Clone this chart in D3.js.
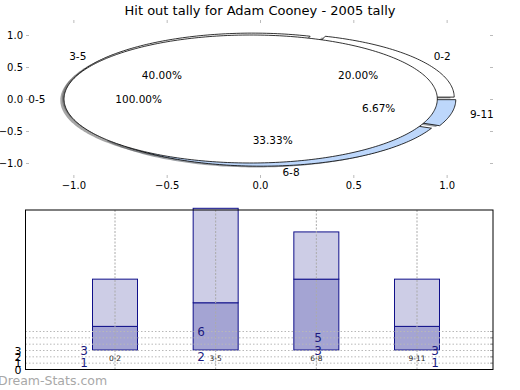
<!DOCTYPE html>
<html>
<head>
<meta charset="utf-8">
<script src="https://cdn.jsdelivr.net/npm/d3@7"></script>
<style>
  body { margin: 0; background: #fff; }
  svg { display: block; font-family: "DejaVu Sans", sans-serif; }
</style>
</head>
<body>
<svg id="chart" width="520" height="390"></svg>
<script>

// Pie data - outer ring and inner single wedge
const outer_labels = ["0-2", "3-5", "6-8", "9-11"],
    outer_values = [3, 6, 5, 1];
const inner_labels = ["0-5"],
    inner_values = [100];

// Bar data
const bar_cats = ["0-2", "3-5", "6-8", "9-11"],
    bar_low = [1, 2, 3, 1],
    bar_total = [3, 6, 5, 3];

// axis ticks
const pie_ticks = [-1, -0.5, 0, 0.5, 1],
    bar_grid = [1, 2, 3, 4, 5, 6],
    bar_ticks = [0, 1, 2, 3];

// Colors
const outer_colors = ["#ffffff", "#ffffff", "#bdd7fb", "#bdd7fb"],
    inner_colors = ["#ffffff"],
    bar_dark = "#a4a4d3",
    bar_light = "#cdcde6",
    bar_edge = "#10108a",
    label_navy = "#1a1a80";

const svg = d3.select("#chart");

// ---------- top: pie (stretched into an ellipse) ----------
const x_pie = d3.scaleLinear().domain([-1.25, 1.25]).range([26.7, 493.3]),
    y_pie = d3.scaleLinear().domain([-1.2, 1.2]).range([175.8, 22.2]);

svg.append("text")
    .attr("x", 260).attr("y", 15)
    .attr("text-anchor", "middle")
    .attr("font-size", 13)
    .text("Hit out tally for Adam Cooney - 2005 tally");

// tick marks all round, labels only left and bottom
function style_axis(g) {
    g.select(".domain").remove();
    g.selectAll("line").attr("stroke", "#bbbbbb");
    g.selectAll("text").attr("font-size", 10).attr("fill", "#000")
        .attr("font-family", "DejaVu Sans, sans-serif");
}
const fmt = d => d3.format(".1f")(d).replace("-", "\u2212");

svg.append("g").attr("transform", "translate(29,0)")
    .call(d3.axisLeft(y_pie).tickValues(pie_ticks).tickSize(3).tickPadding(3).tickFormat(fmt))
    .call(style_axis);
svg.append("g").attr("transform", "translate(0,175)")
    .call(d3.axisBottom(x_pie).tickValues(pie_ticks).tickSize(3).tickPadding(4).tickFormat(fmt))
    .call(style_axis);
svg.append("g").attr("transform", "translate(0,23)")
    .call(d3.axisTop(x_pie).tickValues(pie_ticks).tickSize(3).tickFormat(""))
    .call(style_axis);
svg.append("g").attr("transform", "translate(490,0)")
    .call(d3.axisRight(y_pie).tickValues(pie_ticks).tickSize(3).tickFormat(""))
    .call(style_axis);

// matplotlib-like pie layout: start at 0 deg, counter clockwise
function pie_layout(values, explode, radius) {
    const total = d3.sum(values);
    let theta = 0;
    return values.map((v, i) => {
        const a0 = theta, a1 = theta + 2 * Math.PI * v / total;
        theta = a1;
        const mid = (a0 + a1) / 2;
        return {
            i: i, value: v, frac: v / total, a0: a0, a1: a1, mid: mid,
            cx: explode * Math.cos(mid), cy: explode * Math.sin(mid), r: radius
        };
    });
}

const wedge_line = d3.line().x(d => x_pie(d[0])).y(d => y_pie(d[1]));

function wedge_path(w, dx, dy) {
    let pts = [];
    const n = Math.max(8, Math.ceil((w.a1 - w.a0) / 0.02));
    if (w.frac < 1) pts.push([w.cx + dx, w.cy + dy]);
    d3.range(n + 1).forEach(k => {
        const a = w.a0 + (w.a1 - w.a0) * k / n;
        pts.push([w.cx + dx + w.r * Math.cos(a), w.cy + dy + w.r * Math.sin(a)]);
    });
    return wedge_line(pts) + "Z";
}

// shadow colour = 0.3 * face colour, half transparent
function shadow_color(c) {
    const rgb = d3.rgb(c);
    return d3.rgb(rgb.r * 0.3, rgb.g * 0.3, rgb.b * 0.3);
}

const outer = pie_layout(outer_values, 0.05, 1),
    inner = pie_layout(inner_values, 0.05, 1);

// shadows below every wedge
const shadows = svg.append("g").attr("class", "shadows");
[[outer, outer_colors], [inner, inner_colors]].forEach(([ws, cols]) => {
    shadows.selectAll(null)
        .data(ws)
        .enter().append("path")
        .attr("d", d => wedge_path(d, -0.02, -0.02))
        .attr("fill", d => shadow_color(cols[d.i]))
        .attr("fill-opacity", 0.5)
        .attr("stroke", "none");
});

[[outer, outer_colors], [inner, inner_colors]].forEach(([ws, cols]) => {
    svg.append("g").selectAll("path")
        .data(ws)
        .enter().append("path")
        .attr("d", d => wedge_path(d, 0, 0))
        .attr("fill", d => cols[d.i])
        .attr("stroke", "#000")
        .attr("stroke-width", 0.8)
        .attr("stroke-linejoin", "round");
});

// labels: name at 1.1 r, percent at 0.6 r
function pie_text(ws, labels) {
    const g = svg.append("g").attr("font-size", 10.5);
    g.selectAll(".name")
        .data(ws)
        .enter().append("text")
        .attr("x", d => x_pie(d.cx + 1.1 * d.r * Math.cos(d.mid)))
        .attr("y", d => y_pie(d.cy + 1.1 * d.r * Math.sin(d.mid)))
        .attr("text-anchor", d => Math.cos(d.mid) > 0 ? "start" : "end")
        .attr("dominant-baseline", "central")
        .text(d => labels[d.i]);
    g.selectAll(".pct")
        .data(ws)
        .enter().append("text")
        .attr("x", d => x_pie(d.cx + 0.6 * d.r * Math.cos(d.mid)))
        .attr("y", d => y_pie(d.cy + 0.6 * d.r * Math.sin(d.mid)))
        .attr("text-anchor", "middle")
        .attr("dominant-baseline", "central")
        .text(d => d3.format(".2f")(d.frac * 100) + "%");
}
pie_text(outer, outer_labels);
pie_text(inner, inner_labels);

// ---------- bottom: stacked bars ----------
const box = {left: 25.5, right: 493, top: 210, bottom: 369.5};

const x_bar = d3.scalePoint().domain(bar_cats).range([115, 417]),
    x_lab = d3.scalePoint().domain(bar_cats).range([84, 435]),
    y_bar = d3.scaleLinear().domain([0, 6]).range([350, 208.3]),
    y_small = d3.scaleLinear().domain([0, 25]).range([box.bottom, 211.2]);

const bar_w = 45;

const bars = svg.append("g").attr("class", "bars");
bars.selectAll(".low")
    .data(bar_cats)
    .enter().append("rect")
    .attr("x", d => x_bar(d) - bar_w / 2)
    .attr("width", bar_w)
    .attr("y", (d, i) => y_bar(bar_low[i]))
    .attr("height", (d, i) => y_bar(0) - y_bar(bar_low[i]))
    .attr("fill", bar_dark)
    .attr("stroke", bar_edge).attr("stroke-width", 1);
bars.selectAll(".high")
    .data(bar_cats)
    .enter().append("rect")
    .attr("x", d => x_bar(d) - bar_w / 2)
    .attr("width", bar_w)
    .attr("y", (d, i) => y_bar(bar_total[i]))
    .attr("height", (d, i) => y_bar(bar_low[i]) - y_bar(bar_total[i]))
    .attr("fill", bar_light)
    .attr("stroke", bar_edge).attr("stroke-width", 1);

// dotted grid on top of the bars
const grid = svg.append("g").attr("class", "grid");
grid.selectAll(".hg")
    .data(bar_grid)
    .enter().append("line")
    .attr("x1", box.left).attr("x2", box.right)
    .attr("y1", d => y_small(d)).attr("y2", d => y_small(d))
    .attr("stroke", "#b8b8b8").attr("stroke-dasharray", "1.5,2");
grid.selectAll(".hr")
    .data(bar_grid)
    .enter().append("line")
    .attr("x1", box.right - 3).attr("x2", box.right)
    .attr("y1", d => y_small(d)).attr("y2", d => y_small(d))
    .attr("stroke", "#999");
grid.selectAll(".vg")
    .data(bar_cats)
    .enter().append("line")
    .attr("x1", d => x_bar(d)).attr("x2", d => x_bar(d))
    .attr("y1", box.top).attr("y2", box.bottom)
    .attr("stroke", "#aaaaaa").attr("stroke-dasharray", "2,1.5");

// frame
svg.append("rect")
    .attr("x", box.left).attr("y", box.top)
    .attr("width", box.right - box.left).attr("height", box.bottom - box.top)
    .attr("fill", "none").attr("stroke", "#000").attr("stroke-width", 1);

// squeezed y labels
svg.append("g").attr("transform", `translate(${box.left},0)`)
    .call(d3.axisLeft(y_small).tickValues(bar_ticks).tickSize(0).tickPadding(4).tickFormat(d3.format("d")))
    .call(g => g.select(".domain").remove())
    .call(g => g.selectAll("text").attr("font-size", 11).attr("fill", "#000")
        .attr("font-family", "DejaVu Sans, sans-serif"));

// category names under the bars
svg.append("g").selectAll("text")
    .data(bar_cats)
    .enter().append("text")
    .attr("x", d => x_bar(d))
    .attr("y", 358)
    .attr("text-anchor", "middle")
    .attr("dominant-baseline", "central")
    .attr("font-size", 7.5)
    .attr("fill", "#222")
    .text(d => d);

// value labels
const vals = svg.append("g").attr("font-size", 12).attr("fill", label_navy);
vals.selectAll(".tot")
    .data(bar_cats)
    .enter().append("text")
    .attr("x", d => x_lab(d))
    .attr("y", (d, i) => y_small(bar_total[i]))
    .attr("text-anchor", "middle")
    .attr("dominant-baseline", "central")
    .text((d, i) => bar_total[i]);
vals.selectAll(".lo")
    .data(bar_cats)
    .enter().append("text")
    .attr("x", d => x_lab(d))
    .attr("y", (d, i) => y_small(bar_low[i]))
    .attr("text-anchor", "middle")
    .attr("dominant-baseline", "central")
    .text((d, i) => bar_low[i]);

// watermark
svg.append("text")
    .attr("x", -2).attr("y", 385)
    .attr("font-size", 12.5)
    .attr("fill", "#a8a8a8")
    .text("Dream-Stats.com");

</script>
</body>
</html>
